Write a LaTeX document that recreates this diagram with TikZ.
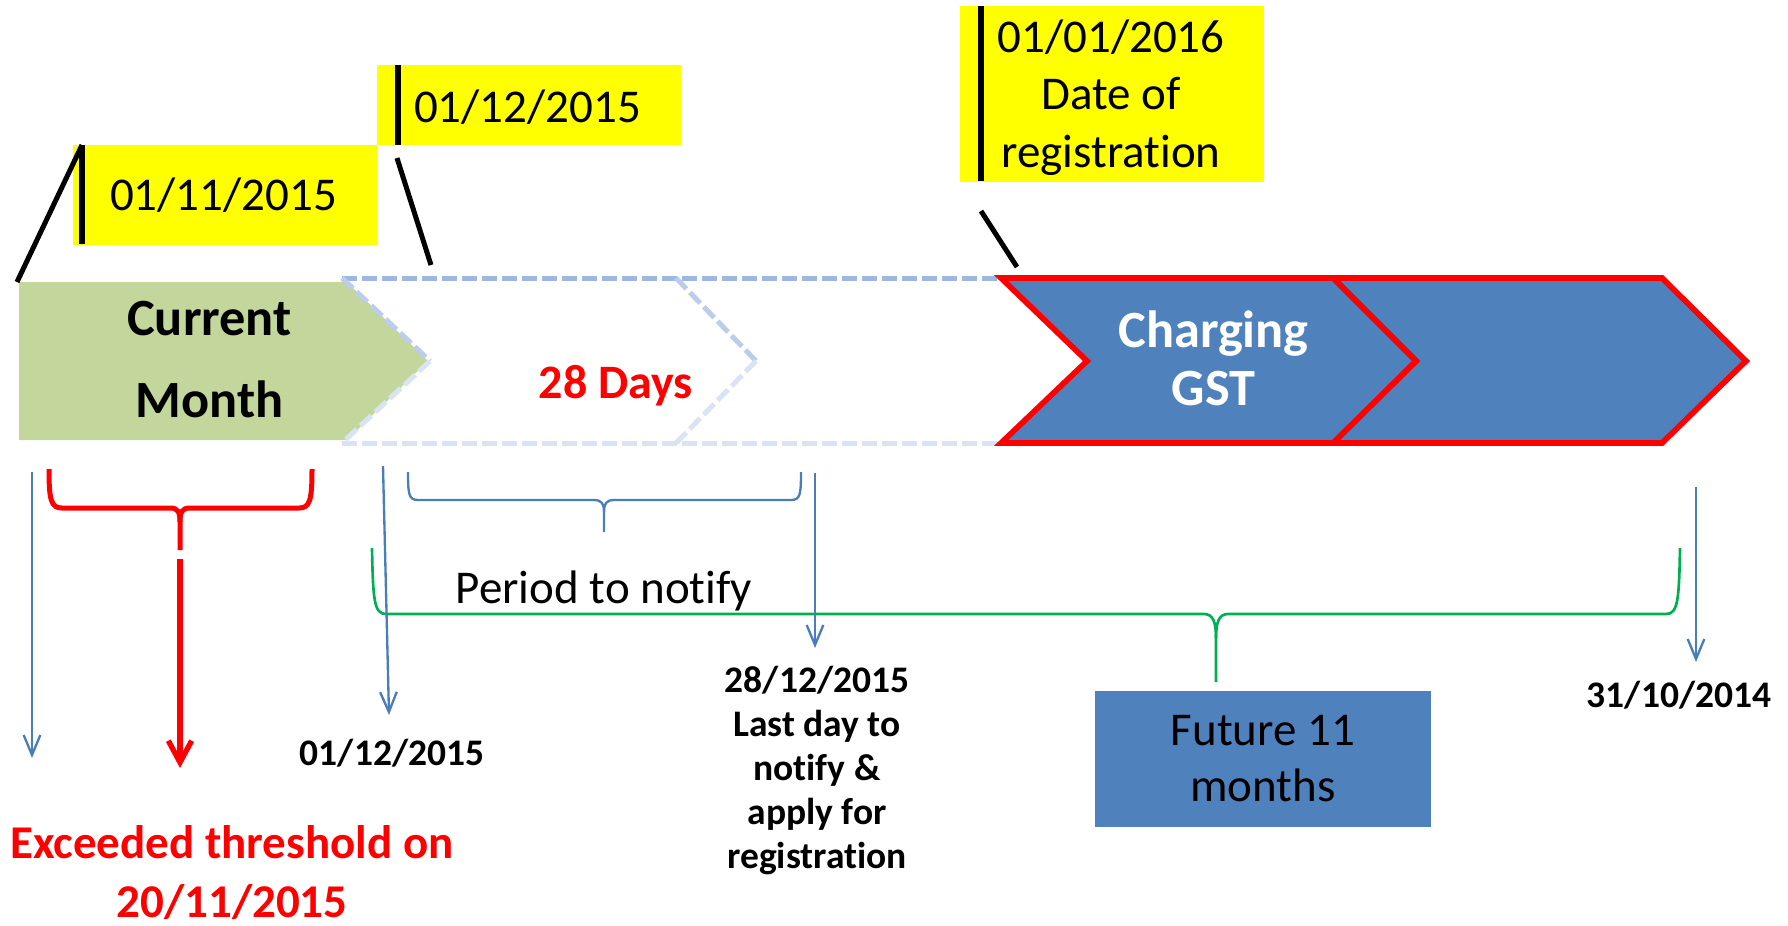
\documentclass[tikz,border=0pt]{standalone}
\usepackage{fontspec}
\setmainfont{Carlito}[Ligatures=NoCommon]
\usetikzlibrary{arrows.meta}

\definecolor{hlyellow}{HTML}{FFFF00}
\definecolor{oliveFill}{HTML}{C3D69B}
\definecolor{chevBlue}{HTML}{4F81BD}
\definecolor{lineBlue}{HTML}{4A7EBB}
\definecolor{braceGreen}{HTML}{00B050}
\definecolor{dashTop}{HTML}{9DB6E2}
\definecolor{dashMid}{HTML}{BCCDEB}
\definecolor{dashLow}{HTML}{DAE3F3}

\newcommand\fsDate{\fontsize{14.1}{17.25}\selectfont}
\newcommand\fsChev{\fontsize{15.7}{17.4}\selectfont\bfseries}
\newcommand\fsSmall{\fontsize{11.25}{13.2}\selectfont\bfseries}

\begin{document}
\begin{tikzpicture}[x=0.3pt,y=-0.3pt,
  datebox/.style={fill=hlyellow, draw=none, inner sep=0, minimum width=91.2pt},
  datebar/.style={line width=1.6pt, black},
  callout/.style={line width=1.5pt, black},
  chevgreen/.style={fill=oliveFill, draw=none},
  chevgst/.style={fill=chevBlue, draw=red, line width=1.7pt, line join=miter},
  dashedge/.style={line width=1.5pt, dash pattern=on 4.5pt off 1.5pt},
  thinarrow/.style={draw=lineBlue, line width=0.7pt, -{Straight Barb[length=6pt,width=5pt]}},
  redarrow/.style={draw=red, line width=1.6pt, -{Straight Barb[length=6.5pt,width=7pt]}},
  bracered/.style={draw=red, line width=1.5pt},
  braceblue/.style={draw=lineBlue, line width=0.7pt},
  bracegreen/.style={draw=braceGreen, line width=0.8pt},
  lbl/.style={inner sep=0, anchor=base, align=center}]
\useasboundingbox (0,0) rectangle (1788,925);

% yellow date flags
\node[datebox, minimum height=30pt] (d1) at (225,195) {};
\node[datebox, minimum height=24pt] (d2) at (529,105) {};
\node[datebox, minimum height=52.8pt] (d3) at (1112,94) {};
\coordinate (b1t) at (82,145);  \coordinate (b1b) at (82,244);
\coordinate (b2t) at (398,65);  \coordinate (b2b) at (398,145);
\coordinate (b3t) at (981,6);   \coordinate (b3b) at (981,181);
\draw[datebar] (b1t) -- (b1b);
\draw[datebar] (b2t) -- (b2b);
\draw[datebar] (b3t) -- (b3b);
\node[lbl, font=\fsDate] (t1) at (223.5,210) {01/11/2015};
\node[lbl, font=\fsDate] (t2) at (527.5,122) {01/12/2015};
% multi-line labels are anchored at the baseline of their last line
\node[lbl, font=\fsDate] (t3) at (1111,167) {01/01/2016\\Date of\\registration};

% current month chevron
\path[chevgreen] (19,282) -- (347,282) -- (428,361) -- (347,440) -- (19,440) -- cycle;
\coordinate (cmnw) at (17,282);
\node[lbl, font=\fsChev, text=black] (cm) at (209.5,335) {Current};
\node[lbl, font=\fsChev, text=black] (cm2) at (209.5,417) {Month};

% 28-day outlined chevrons
\draw[dashedge, dashTop] (342,278) -- (1005,278);
\draw[dashedge, dashMid] (342,278) -- (430,361);
\draw[dashedge, dashMid] (676,278) -- (756,361);
\draw[dashedge, dashLow] (430,361) -- (342,443);
\draw[dashedge, dashLow] (756,361) -- (676,443);
\draw[dashedge, dashLow] (342,443) -- (1005,443);
\node[lbl, font=\fontsize{14.4}{17}\selectfont\bfseries, text=red] (days) at (616,398) {28 Days};

% GST chevrons
\draw[chevgst] (1333,278) -- (1662,278) -- (1746,361) -- (1662,443) -- (1333,443) -- (1416,361) -- cycle;
\draw[chevgst] (1001,278) -- (1333,278) -- (1416,361) -- (1333,443) -- (1001,443) -- (1087,361) -- cycle;
\node[lbl, font=\fsChev, text=white] (gst) at (1213.5,405) {Charging\\GST};

% callout lines
\coordinate (c2a) at (397,158); \coordinate (c2b) at (431,265);
\coordinate (c3a) at (981,211); \coordinate (c3b) at (1017,267);
\draw[callout] (cmnw) -- (b1t);
\draw[callout] (c2a) -- (c2b);
\draw[callout] (c3a) -- (c3b);

% braces
\draw[bracered] (49,469) .. controls (49,500) and (51,508) .. (62,508) -- (170,508)
  .. controls (178,508) and (180,512) .. (180,522) -- (180,550);
\draw[bracered] (312,469) .. controls (312,500) and (310,508) .. (299,508) -- (190,508)
  .. controls (182,508) and (180,512) .. (180,522);
\draw[braceblue] (408,472) .. controls (408,495) and (409,500) .. (418,500) -- (594,500)
  .. controls (602,500) and (604,504) .. (604,512) -- (604,532);
\draw[braceblue] (801,472) .. controls (801,495) and (800,500) .. (791,500) -- (614,500)
  .. controls (606,500) and (604,504) .. (604,512);
\draw[bracegreen] (372,548) .. controls (373,600) and (374,614) .. (386,614) -- (1204,614)
  .. controls (1213,614) and (1216,622) .. (1216,638) -- (1216,682);
\draw[bracegreen] (1680,548) .. controls (1679,600) and (1678,614) .. (1666,614) -- (1228,614)
  .. controls (1219,614) and (1216,622) .. (1216,638);

% timeline arrows
\coordinate (a1s) at (32,472);   \coordinate (a1e) at (32,758);
\coordinate (a2s) at (383,466);  \coordinate (a2e) at (389,715);
\coordinate (a3s) at (815,473);  \coordinate (a3e) at (815,648);
\coordinate (a4s) at (1696,487); \coordinate (a4e) at (1696,662);
\coordinate (ras) at (180,559);  \coordinate (rae) at (180,768);
\draw[thinarrow] (a1s) -- (a1e);
\draw[thinarrow] (a2s) -- (a2e);
\draw[thinarrow] (a3s) -- (a3e);
\draw[thinarrow] (a4s) -- (a4e);
\draw[redarrow] (ras) -- (rae);

% labels below the timeline
\node[lbl, font=\fsDate] (notify) at (604,603) {Period to notify};
\node[lbl, font=\fsSmall] (l1) at (392,765) {01/12/2015};
\node[lbl, font=\fsSmall] (l2) at (817,868) {28/12/2015\\Last day to\\notify \&\\apply for\\registration};
\node[lbl, font=\fsSmall] (l3) at (1679,707) {31/10/2014};
\node[lbl, font=\fontsize{14.1}{17.7}\selectfont\bfseries, text=red] (thr) at (232,917) {Exceeded threshold on\\20/11/2015};
\node[fill=chevBlue, minimum width=100.8pt, minimum height=40.8pt, inner sep=0,
      align=center, font=\fontsize{14.1}{16.8}\selectfont] (fut) at (1263,759) {Future 11\\months};
\end{tikzpicture}
\end{document}
